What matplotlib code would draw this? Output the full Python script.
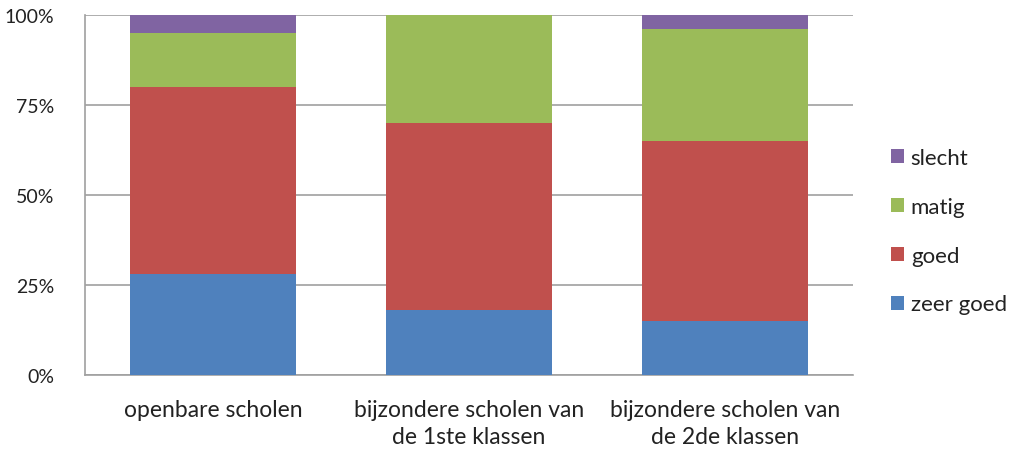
import matplotlib
matplotlib.use("Agg")
import matplotlib.pyplot as plt
import numpy as np

categories = ["openbare scholen", "bijzondere scholen van\nde 1ste klassen", "bijzondere scholen van\nde 2de klassen"]
series_names = ["zeer goed", "goed", "matig", "slecht"]
zeer_goed = [28, 18, 15]
goed = [52, 52, 50]
matig = [15, 30, 31]
slecht = [5, 0, 4]
yticks = [0, 25, 50, 75, 100]
ytick_labels = ["0%", "25%", "50%", "75%", "100%"]
colors = ["#4F81BD", "#C0504D", "#9BBB59", "#8064A2"]

plt.rcParams['font.family'] = ['Lato', 'DejaVu Sans']

fig = plt.figure(figsize=(10.17, 4.56), dpi=100)
ax = fig.add_axes([85/1017, 80/456, 768/1017, 360/456])

x = np.arange(len(categories))
bottom = np.zeros(len(categories))
handles = []
for vals, name, c in zip([zeer_goed, goed, matig, slecht], series_names, colors):
    b = ax.bar(x, vals, width=0.645, bottom=bottom, color=c, label=name, zorder=3)
    handles.append(b)
    bottom += np.array(vals)

ax.set_xlim(-0.5, 2.5)
ax.set_ylim(0, 100)
ax.set_yticks(yticks)
ax.set_yticklabels(ytick_labels, fontsize=14, color="#222222")
ax.set_xticks(x)
ax.set_xticklabels(categories, fontsize=16.5, color="#222222", linespacing=1.4)
ax.tick_params(axis='y', length=0, pad=22)
ax.tick_params(axis='x', length=0, pad=17)
ax.yaxis.grid(True, color="#A0A0A0", linewidth=1.2, zorder=0)
for s in ["top", "right"]:
    ax.spines[s].set_visible(False)
for s in ["left", "bottom"]:
    ax.spines[s].set_color("#A0A0A0")
    ax.spines[s].set_linewidth(1.2)

leg = fig.legend(handles[::-1], series_names[::-1], loc="upper left",
                 bbox_to_anchor=(873/1017, 1 - 131/456), frameon=False,
                 fontsize=16, handlelength=0.6, handleheight=0.6,
                 handletextpad=0.3, labelspacing=1.3, borderpad=0.3)
for t in leg.get_texts():
    t.set_color("#222222")

fig.savefig("out.png", dpi=100)
